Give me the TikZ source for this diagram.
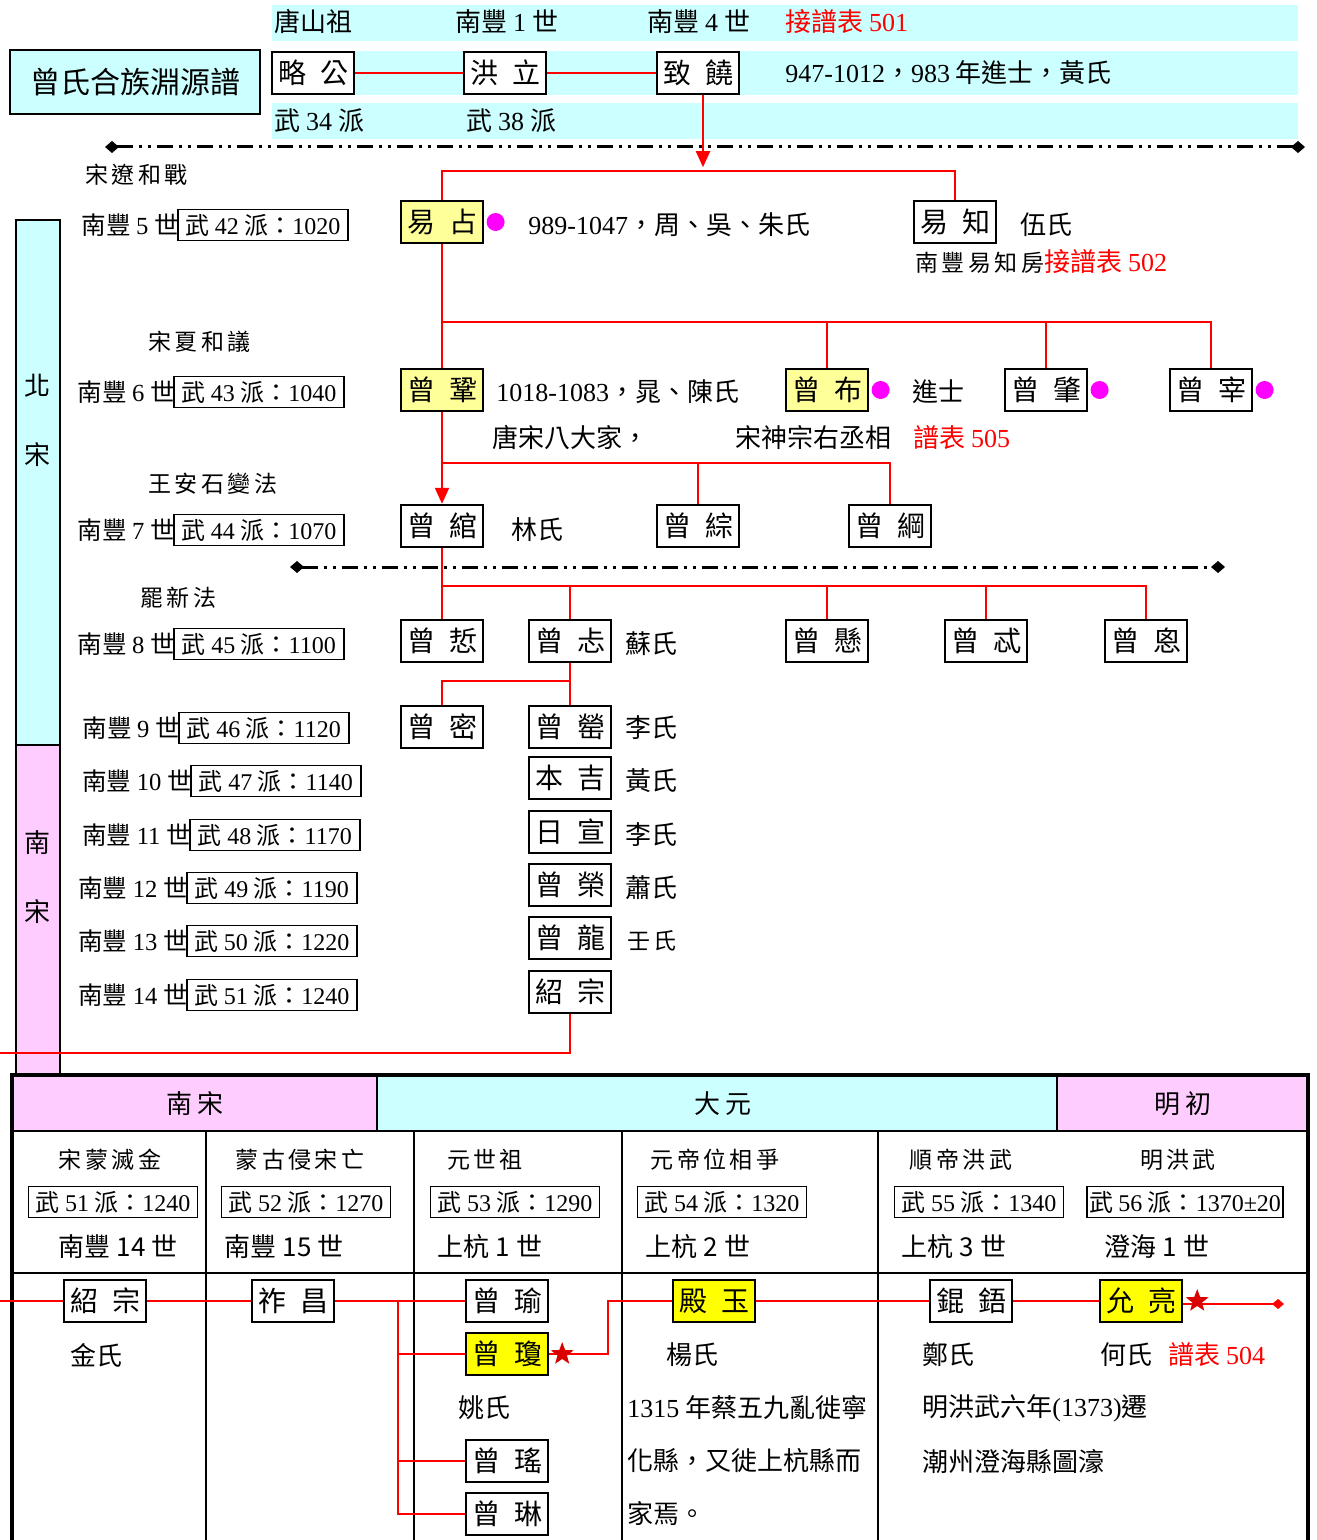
\documentclass[tikz,border=0pt]{standalone}
\usepackage{fontspec}
\setmainfont{Noto Sans CJK TC}
\newfontfamily\tm{Liberation Serif}
\newfontfamily\kai[LetterSpace=15]{Noto Sans CJK TC}
\usetikzlibrary{positioning,arrows.meta,shapes.geometric}
\definecolor{pcyan}{HTML}{CCFFFF}
\definecolor{ppink}{HTML}{FFCCFF}
\definecolor{plyel}{HTML}{FFFF99}
\definecolor{pyel}{HTML}{FFFF00}
\definecolor{pmag}{HTML}{FF00FF}
\newcommand{\nm}[2]{\makebox[35pt]{#1\hfill#2}}
\newcommand{\wu}[2]{武 {\tm #1} 派：{\tm #2}}
\tikzset{
  pbox/.style={draw, line width=1.2pt, fill=white, minimum width=41pt, minimum height=21pt,
    inner sep=0pt, font=\fontsize{14pt}{16pt}\selectfont},
  hl/.style={pbox, fill=plyel},
  hlb/.style={pbox, fill=pyel},
  wubox/.style={draw, line width=0.9pt, minimum height=15.5pt, inner sep=1pt,
    font=\fontsize{12pt}{14pt}\selectfont},
  kin/.style={red, line width=1pt},
  era/.style={font=\kai\fontsize{11.5pt}{13pt}\selectfont},
  txt/.style={anchor=west, inner sep=0pt},
  dotm/.style={circle, fill=pmag, minimum size=9pt, inner sep=0pt},
  redstar/.style={star, star points=5, star point ratio=2.4, fill=red!85!black,
    minimum size=12pt, inner sep=0pt},
  divider/.style={line width=1.5pt, dash pattern=on 8pt off 3pt on 1.5pt off 3pt on 1.5pt off 3pt,
    arrows={Diamond[length=7pt,width=6pt]-Diamond[length=7pt,width=6pt]}},
}
\begin{document}
\begin{tikzpicture}[x=0.5pt, y=-0.5pt, font=\fontsize{13pt}{15pt}\selectfont]
\useasboundingbox (0,0) rectangle (1316,1540);

% top bands
\fill[pcyan] (272,5) rectangle (1298,41);
\fill[pcyan] (272,51) rectangle (1298,95);
\fill[pcyan] (272,103) rectangle (1298,139);
\node[draw, line width=1pt, fill=pcyan, minimum width=125pt, minimum height=32pt,
  font=\fontsize{15pt}{17pt}\selectfont] (title) at (135,82) {曾氏合族淵源譜};

\node[txt] at (274,22) {唐山祖};
\node[txt] at (455,22) {南豐 {\tm 1} 世};
\node[txt] at (647,22) {南豐 {\tm 4} 世};
\node[txt, red] at (785,22) {接譜表 {\tm 501}};
\node[txt] at (274,121) {武 {\tm 34} 派};
\node[txt] at (466,121) {武 {\tm 38} 派};

\node[pbox] (lue) at (313,73) {\nm{略}{公}};
\node[pbox] (hongli) at (505,73) {\nm{洪}{立}};
\node[pbox] (zhirao) at (698,73) {\nm{致}{饒}};
\node[txt] at (785,73) {{\tm 947-1012}，{\tm 983} 年進士，黃氏};
\draw[kin] (lue) -- (hongli);
\draw[kin] (hongli) -- (zhirao);

\draw[divider] (105,147) -- (1305,147);
\draw[divider] (290,567) -- (1225,567);

% dynasty bars
\draw[fill=pcyan, line width=1pt] (16,220) rectangle (60,745);
\draw[fill=ppink, line width=1pt] (16,745) rectangle (60,1075);
\node at (38,386) {北};
\node at (38,455) {宋};
\node at (38,843) {南};
\node at (38,912) {宋};

% events
\node[txt, era] at (85,175) {宋遼和戰};
\node[txt, era] at (148,342) {宋夏和議};
\node[txt, era] at (148,484) {王安石變法};
\node[txt, era] at (140,598) {罷新法};

% generations
\foreach \g/\p/\yr/\y/\bx in {5/42/1020/225/177, 6/43/1040/392/173, 7/44/1070/530/173,
    8/45/1100/644/173, 9/46/1120/728/178, 10/47/1140/781/190, 11/48/1170/835/189,
    12/49/1190/888/186, 13/50/1220/941/186, 14/51/1240/995/186}{
  \node[wubox, anchor=west, minimum width=85pt] (pai\g) at (\bx,\y) {\wu{\p}{\yr}};
  \node[anchor=east, inner sep=0pt, font=\fontsize{12.3pt}{14pt}\selectfont] (gen\g)
    at ([xshift=1pt]pai\g.west) {南豐 {\tm \g} 世};
}

% people
\node[hl] (yizhan) at (442,222) {\nm{易}{占}};
\node[dotm, right=1pt of yizhan] (dot1) {};
\node[txt] at (528,225) {{\tm 989-1047}，周、吳、朱氏};
\node[pbox] (yizhi) at (955,222) {\nm{易}{知}};
\node[txt] at (1020,225) {伍氏};
\node[txt] at (915,262) {{\kai\fontsize{11.5pt}{13pt}\selectfont 南豐易知房}\textcolor{red}{接譜表 {\tm 502}}};

\node[hl] (gong) at (442,390) {\nm{曾}{鞏}};
\node[txt] at (496,392) {{\tm 1018-1083}，晁、陳氏};
\node[hl] (bu) at (827,390) {\nm{曾}{布}};
\node[dotm, right=1pt of bu] (dot2) {};
\node[txt] at (912,392) {進士};
\node[pbox] (zhao) at (1046,390) {\nm{曾}{肇}};
\node[dotm, right=1pt of zhao] (dot3) {};
\node[pbox] (zai) at (1211,390) {\nm{曾}{宰}};
\node[dotm, right=1pt of zai] (dot4) {};
\node[txt] at (492,438) {唐宋八大家，};
\node[txt] at (735,438) {宋神宗右丞相};
\node[txt, red] at (913,438) {譜表 {\tm 505}};

\node[pbox] (wan) at (442,526) {\nm{曾}{綰}};
\node[txt] at (511,530) {林氏};
\node[pbox] (zong) at (698,526) {\nm{曾}{綜}};
\node[pbox] (gang) at (890,526) {\nm{曾}{綱}};

\node[pbox] (zhe) at (442,641) {\nm{曾}{悊}};
\node[pbox] (tan) at (570,641) {\nm{曾}{忐}};
\node[txt] at (625,644) {蘇氏};
\node[pbox] (xuan) at (827,641) {\nm{曾}{懸}};
\node[pbox] (fu) at (986,641) {\nm{曾}{忒}};
\node[pbox] (si) at (1146,641) {\nm{曾}{恖}};

\node[pbox] (mi) at (442,727) {\nm{曾}{密}};
\node[pbox] (ying) at (570,727) {\nm{曾}{罃}};
\node[txt] at (625,728) {李氏};
\node[pbox] (benji) at (570,778) {\nm{本}{吉}};
\node[txt] at (625,781) {黃氏};
\node[pbox] (rixuan) at (570,832) {\nm{日}{宣}};
\node[txt] at (625,835) {李氏};
\node[pbox] (rong) at (570,885) {\nm{曾}{榮}};
\node[txt] at (625,888) {蕭氏};
\node[pbox] (long) at (570,938) {\nm{曾}{龍}};
\node[txt, era] at (627,941) {壬氏};
\node[pbox] (shaozong) at (570,992) {\nm{紹}{宗}};

% lines
\draw[kin, -{Triangle[width=7pt,length=8pt]}] ([xshift=2.5pt]zhirao.south) -- ++(0,72);
\coordinate (t1) at (442,171);
\draw[kin] (yizhan.north) -- (t1) -| (yizhi.north);
\draw[kin] (yizhan.south) -- (gong.north);
\coordinate (t2) at (442,322);
\draw[kin] (t2) -| (zai.north);
\draw[kin] (bu.north) -- (bu.north |- t2);
\draw[kin] (zhao.north) -- (zhao.north |- t2);
\draw[kin, -{Triangle[width=7pt,length=8pt]}] (gong.south) -- (wan.north);
\coordinate (t3) at (442,463);
\draw[kin] (t3) -| (gang.north);
\draw[kin] (zong.north) -- (zong.north |- t3);
\draw[kin] (wan.south) -- (zhe.north);
\coordinate (t4) at (442,586);
\draw[kin] (t4) -| (si.north);
\draw[kin] (tan.north) -- (tan.north |- t4);
\draw[kin] (xuan.north) -- (xuan.north |- t4);
\draw[kin] (fu.north) -- (fu.north |- t4);
\draw[kin] (tan.south) -- (ying.north);
\coordinate (t5) at (570,681);
\draw[kin] (t5) -| (mi.north);
\coordinate (out1) at (0,1053);
\draw[kin] (shaozong.south) |- (out1);

% table
\fill[ppink] (12,1075) rectangle (377,1131);
\fill[pcyan] (377,1075) rectangle (1057,1131);
\fill[ppink] (1057,1075) rectangle (1308,1131);
\draw[line width=1pt] (377,1075) -- (377,1131) (1057,1075) -- (1057,1131);
\draw[line width=1pt] (12,1131) -- (1308,1131) (12,1273) -- (1308,1273);
\foreach \x in {206,414,622,878} \draw[line width=1pt] (\x,1131) -- (\x,1540);
\draw[line width=1.6pt] (12,1540) -- (12,1075) -- (1308,1075) -- (1308,1540);
\node at (195,1104) {南 宋};
\node at (723,1104) {大 元};
\node at (1183,1104) {明 初};

\foreach \ex/\era/\bx/\p/\yr/\gx/\gen/\w in {110/宋蒙滅金/113/51/1240/118/南豐 14 世/84.5,
    300/蒙古侵宋亡/306/52/1270/284/南豐 15 世/84.5, 485/元世祖/515/53/1290/490/上杭 1 世/84.5,
    715/元帝位相爭/722/54/1320/698/上杭 2 世/84.5, 961/順帝洪武/979/55/1340/954/上杭 3 世/84.5,
    1178/明洪武/1185/56/1370±20/1157/澄海 1 世/96.5}{
  \node[era] at (\ex,1160) {\era};
  \node[wubox, minimum width=\w pt] at (\bx,1202) {\wu{\p}{\yr}};
  \node at (\gx,1247) {\gen};
}

\node[pbox] (shaozongB) at (105,1301) {\nm{紹}{宗}};
\node[txt] at (70,1355) {金氏};
\node[pbox] (zuochang) at (293,1301) {\nm{祚}{昌}};
\node[pbox] (yu) at (507,1301) {\nm{曾}{瑜}};
\node[hlb] (qiong) at (507,1354) {\nm{曾}{瓊}};
\node[txt] at (458,1408) {姚氏};
\node[pbox] (yao) at (507,1461) {\nm{曾}{瑤}};
\node[pbox] (lin) at (507,1514) {\nm{曾}{琳}};
\node[hlb] (dianyu) at (714,1301) {\nm{殿}{玉}};
\node[txt] at (666,1355) {楊氏};
\node[txt] at (627,1408) {{\tm 1315} 年蔡五九亂徙寧};
\node[txt] at (627,1461) {化縣，又徙上杭縣而};
\node[txt] at (627,1514) {家焉。};
\node[pbox] (kunwu) at (971,1301) {\nm{錕}{鋙}};
\node[txt] at (922,1355) {鄭氏};
\node[txt] at (922,1408) {明洪武六年{\tm (1373)}遷};
\node[txt] at (922,1461) {潮州澄海縣圖濠};
\node[hlb] (yunliang) at (1141,1301) {\nm{允}{亮}};
\node[txt] at (1100,1355) {何氏};
\node[txt, red] at (1168,1355) {譜表 {\tm 504}};

\coordinate (in1) at (0,1301);
\draw[kin] (in1) -- (shaozongB);
\draw[kin] (shaozongB) -- (zuochang);
\draw[kin] (zuochang) -- (yu);
\coordinate (t6) at (398,1301);
\draw[kin] (t6) |- (qiong);
\draw[kin] (t6) |- (yao);
\draw[kin] (t6) |- (lin);
\coordinate (t7) at (608,1354);
\draw[kin] (qiong) -- (t7) |- (dianyu);
\draw[kin] (dianyu) -- (kunwu);
\draw[kin] (kunwu) -- (yunliang);
\coordinate (out2) at (1284,1304);
\draw[kin, -{Diamond[length=6pt,width=5pt]}] (yunliang.east |- out2) -- (out2);
\node[redstar] (star1) at ([xshift=6.5pt]qiong.east) {};
\node[redstar] (star2) at ([xshift=7pt]yunliang.east) {};
\end{tikzpicture}
\end{document}
